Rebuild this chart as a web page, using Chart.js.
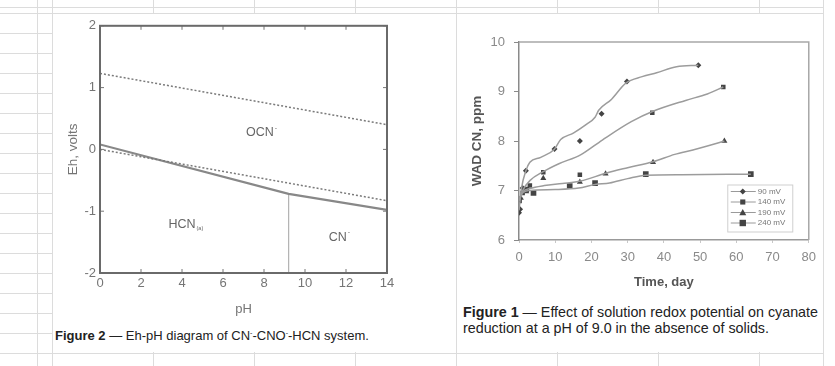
<!DOCTYPE html>
<html>
<head>
<meta charset="utf-8">
<script src="https://cdn.jsdelivr.net/npm/chart.js@4.4.0/dist/chart.umd.min.js"></script>
<style>
    html, body { margin: 0; padding: 0; background: #fff; }
    body { width: 835px; height: 366px; position: relative; overflow: hidden; font-family: "Liberation Sans", Arial, sans-serif; }
    #sheet {
        position: absolute; left: 0; top: 0; width: 823px; height: 366px;
        background-image: repeating-linear-gradient(to right, #dcdcdc 0 1px, transparent 1px 101px),
                          repeating-linear-gradient(to bottom, #dcdcdc 0 1px, transparent 1px 20px);
        background-position: 52px 0, 0 13px;
        border-right: 1px solid #dcdcdc;
    }
    .panel { position: absolute; background: #fff; top: 14px; height: 338px; }
    #leftPanel { left: 53px; width: 403px; }
    #rightPanel { left: 457px; width: 366px; }
    canvas { position: absolute; left: 0; top: 0; }
    .caption { position: absolute; color: #222; white-space: nowrap; line-height: 16px; }
    .caption sup { font-size: 7px; vertical-align: 5px; }
    #leftCaption { left: 2px; top: 311px; font-size: 13px; }
    #rightCaption { left: 6px; top: 290px; font-size: 14.3px; }
</style>
</head>
<body>
<div id="sheet"></div>
<div class="panel" id="leftPanel">
    <canvas id="ehChart" width="403" height="304"></canvas>
    <div class="caption" id="leftCaption"><b>Figure 2</b> — Eh-pH diagram of CN<sup>-</sup>-CNO<sup>-</sup>-HCN system.</div>
</div>
<div class="panel" id="rightPanel">
    <canvas id="wadChart" width="366" height="284"></canvas>
    <div class="caption" id="rightCaption"><b>Figure 1</b> — Effect of solution redox potential on cyanate<br>reduction at a pH of 9.0 in the absence of solids.</div>
</div>

<script>
// --- Figure 2 data (Eh-pH) ---
const phWater = [0, 14];
const ehOxygen = [1.23, 0.40];
const ehHydrogen = [0, -0.83];
const phBoundary = [0, 9.2, 14];
const ehBoundary = [0.08, -0.72, -0.98];
const phPka = [9.2, 9.2];
const ehPka = [-0.72, -2];
const phTicks = [0, 14, 2];
const ehTicks = [-2, 2, 1];

// --- Figure 1 data (WAD CN vs time) ---
const seriesNames = ["90 mV", "140 mV", "190 mV", "240 mV"];

const days90 = [0, 0.3, 1, 1.9, 9.8, 16.8, 22.8, 29.8, 49.5];
const wad90 = [6.55, 6.62, 7.05, 7.4, 7.84, 8.0, 8.55, 9.2, 9.53];
const days140 = [0, 1, 3, 6.7, 16.8, 36.8, 56.4];
const wad140 = [6.8, 6.95, 7.1, 7.37, 7.32, 8.57, 9.09];
const days190 = [0.5, 2, 6.7, 16.8, 23.9, 37, 56.7];
const wad190 = [6.85, 6.98, 7.25, 7.17, 7.34, 7.57, 8.0];
const days240 = [0, 2, 4, 14, 21, 35, 64];
const wad240 = [6.8, 7.02, 6.95, 7.09, 7.15, 7.33, 7.33];

// fitted curves
const fitDays90 = [0, 0.7, 1.9, 3, 6, 9.7, 11.5, 15, 18.5, 21, 22, 25.5, 29.5, 34, 38, 43.5, 49.5];
const fitWad90 = [6.6, 7.05, 7.4, 7.57, 7.67, 7.83, 8.03, 8.16, 8.33, 8.48, 8.62, 8.84, 9.17, 9.3, 9.38, 9.5, 9.53];
const fitDays140 = [0, 1, 3, 6.7, 11, 17, 23, 31, 37, 46, 52, 56.4];
const fitWad140 = [6.8, 7.0, 7.2, 7.38, 7.54, 7.72, 8.02, 8.39, 8.6, 8.82, 8.95, 9.09];
const fitDays190 = [0, 1, 3, 7, 12, 17, 24, 30, 37, 43, 48, 52, 56.7];
const fitWad190 = [6.8, 6.97, 7.04, 7.1, 7.14, 7.19, 7.35, 7.46, 7.58, 7.73, 7.82, 7.9, 8.0];
const fitDays240 = [0, 1, 3, 10, 16.5, 21, 25, 30, 35, 45, 64];
const fitWad240 = [6.8, 6.95, 7.0, 7.02, 7.05, 7.12, 7.15, 7.24, 7.31, 7.32, 7.33];

const dayTicks = [0, 80, 10];
const wadTicks = [6, 10, 1];

Chart.defaults.font.family = "'Liberation Sans', Arial, sans-serif";

function toPoints(xs, ys) {
    return xs.map((x, i) => ({ x: x, y: ys[i] }));
}

// --- Figure 2 plugins ---

const ehFramePlugin = {
    id: "ehFrame",
    afterDraw(chart) {
        const { ctx, chartArea: a, scales } = chart;
        ctx.save();
        ctx.strokeStyle = "#777";
        ctx.lineWidth = 1;
        ctx.beginPath();
        scales.x.ticks.forEach(t => {
            const px = scales.x.getPixelForValue(t.value);
            ctx.moveTo(px, a.bottom); ctx.lineTo(px, a.bottom - 4);
            ctx.moveTo(px, a.top); ctx.lineTo(px, a.top + 4);
        });
        scales.y.ticks.forEach(t => {
            const py = scales.y.getPixelForValue(t.value);
            ctx.moveTo(a.left, py); ctx.lineTo(a.left + 4, py);
            ctx.moveTo(a.right, py); ctx.lineTo(a.right - 4, py);
        });
        ctx.stroke();
        ctx.lineWidth = 2;
        ctx.strokeStyle = "#6a6a6a";
        ctx.strokeRect(a.left, a.top, a.right - a.left, a.bottom - a.top);
        ctx.restore();
    }
};

const regionLabelPlugin = {
    id: "regionLabels",
    afterDatasetsDraw(chart) {
        const { ctx, scales } = chart;
        const labels = [
            { text: "OCN", sup: "-", ph: 7.8, eh: 0.27 },
            { text: "HCN", sub: "(a)", ph: 4.0, eh: -1.21 },
            { text: "CN", sup: "-", ph: 11.6, eh: -1.42 }
        ];
        ctx.save();
        ctx.fillStyle = "#666";
        ctx.textBaseline = "middle";
        labels.forEach(l => {
            const px = scales.x.getPixelForValue(l.ph);
            const py = scales.y.getPixelForValue(l.eh);
            ctx.font = "12.5px 'Liberation Sans', Arial, sans-serif";
            const w = ctx.measureText(l.text).width;
            ctx.textAlign = "left";
            ctx.fillText(l.text, px - w / 2, py);
            if (l.sup) {
                ctx.font = "7px 'Liberation Sans', Arial, sans-serif";
                ctx.fillText(l.sup, px + w / 2 + 1, py - 5);
            }
            if (l.sub) {
                ctx.font = "5.5px 'Liberation Sans', Arial, sans-serif";
                ctx.fillText(l.sub, px + w / 2 + 1, py + 4);
            }
        });
        ctx.restore();
    }
};

new Chart(document.getElementById("ehChart"), {
    type: "scatter",
    data: {
        datasets: [
            { data: toPoints(phWater, ehOxygen), borderColor: "#7a7a7a", borderWidth: 1.5, borderDash: [2, 2] },
            { data: toPoints(phWater, ehHydrogen), borderColor: "#7a7a7a", borderWidth: 1.5, borderDash: [2, 2] },
            { data: toPoints(phBoundary, ehBoundary), borderColor: "#888", borderWidth: 2.2 },
            { data: toPoints(phPka, ehPka), borderColor: "#b4b4b4", borderWidth: 1 }
        ].map(d => Object.assign(d, { showLine: true, pointRadius: 0, fill: false }))
    },
    options: {
        responsive: false,
        animation: false,
        devicePixelRatio: 1,
        layout: { padding: { top: 10, right: 69, left: 0, bottom: 0 } },
        plugins: { legend: { display: false }, tooltip: { enabled: false } },
        scales: {
            x: {
                type: "linear",
                min: phTicks[0], max: phTicks[1],
                ticks: { stepSize: phTicks[2], color: "#757575", font: { size: 13 }, padding: 3 },
                grid: { display: false, drawTicks: false },
                border: { display: false },
                title: { display: true, text: "pH", color: "#757575", font: { size: 13 }, padding: { top: 0, bottom: 1 } },
                afterFit: s => { s.height = 45; }
            },
            y: {
                type: "linear",
                min: ehTicks[0], max: ehTicks[1],
                ticks: { stepSize: ehTicks[2], color: "#757575", font: { size: 13 }, padding: 4 },
                grid: { display: false, drawTicks: false },
                border: { display: false },
                title: { display: true, text: "Eh, volts", color: "#757575", font: { size: 13.5 }, padding: { top: 12, bottom: 0 } },
                afterFit: s => { s.width = 47; }
            }
        }
    },
    plugins: [ehFramePlugin, regionLabelPlugin]
});

// --- Figure 1 plugins ---

function drawMarker(ctx, style, r, x, y) {
    ctx.beginPath();
    if (style === "rectRot") {
        ctx.moveTo(x, y - r); ctx.lineTo(x + r, y); ctx.lineTo(x, y + r); ctx.lineTo(x - r, y);
    } else if (style === "triangle") {
        ctx.moveTo(x, y - r); ctx.lineTo(x + r, y + r * 0.8); ctx.lineTo(x - r, y + r * 0.8);
    } else {
        ctx.rect(x - r * 0.8, y - r * 0.8, r * 1.6, r * 1.6);
    }
    ctx.closePath();
    ctx.fill();
}

const wadFramePlugin = {
    id: "wadFrame",
    afterDraw(chart) {
        const { ctx, chartArea: a } = chart;
        ctx.save();
        ctx.strokeStyle = "#a8a8a8";
        ctx.lineWidth = 1.5;
        ctx.beginPath();
        ctx.moveTo(a.left, a.top); ctx.lineTo(a.right, a.top); ctx.lineTo(a.right, a.bottom);
        ctx.stroke();

        // legend box, bottom right inside the plot
        const bx = a.right - 81, by = a.bottom - 55, bw = 65, bh = 47;
        ctx.fillStyle = "#fff";
        ctx.fillRect(bx, by, bw, bh);
        ctx.lineWidth = 1;
        ctx.strokeStyle = "#cfcfcf";
        ctx.strokeRect(bx, by, bw, bh);
        const markers = chart.data.datasets.filter(d => d.label);
        markers.forEach((d, i) => {
            const y = by + 6.5 + i * 10.5;
            ctx.strokeStyle = "#9a9a9a";
            ctx.beginPath();
            ctx.moveTo(bx + 3, y); ctx.lineTo(bx + 28, y);
            ctx.stroke();
            ctx.fillStyle = "#444";
            drawMarker(ctx, d.pointStyle, d.pointRadius, bx + 15, y);
            ctx.fillStyle = "#777";
            ctx.font = "8px 'Liberation Sans', Arial, sans-serif";
            ctx.textBaseline = "middle";
            ctx.textAlign = "left";
            ctx.fillText(d.label, bx + 30, y);
        });
        ctx.restore();
    }
};

const fitLine = (xs, ys) => ({
    data: toPoints(xs, ys),
    showLine: true,
    pointRadius: 0,
    borderColor: "#9c9c9c",
    borderWidth: 1.5,
    cubicInterpolationMode: "monotone"
});

const markerSet = (name, xs, ys, style, radius) => ({
    label: name,
    data: toPoints(xs, ys),
    showLine: false,
    pointStyle: style,
    pointRadius: radius,
    backgroundColor: "#444",
    borderColor: "#444",
    borderWidth: 0
});

new Chart(document.getElementById("wadChart"), {
    type: "scatter",
    data: {
        datasets: [
            fitLine(fitDays90, fitWad90),
            fitLine(fitDays140, fitWad140),
            fitLine(fitDays190, fitWad190),
            fitLine(fitDays240, fitWad240),
            markerSet(seriesNames[0], days90, wad90, "rectRot", 3),
            markerSet(seriesNames[1], days140, wad140, "rect", 3.2),
            markerSet(seriesNames[2], days190, wad190, "triangle", 3.5),
            markerSet(seriesNames[3], days240, wad240, "rect", 4)
        ]
    },
    options: {
        responsive: false,
        animation: false,
        devicePixelRatio: 1,
        layout: { padding: { top: 28, right: 9, left: 0, bottom: 0 } },
        plugins: { legend: { display: false }, tooltip: { enabled: false } },
        scales: {
            x: {
                type: "linear",
                min: dayTicks[0], max: dayTicks[1],
                ticks: { stepSize: dayTicks[2], color: "#8a8a8a", font: { size: 13 }, padding: 7 },
                grid: { display: true, drawOnChartArea: false, drawTicks: true, tickLength: 3, color: "#c8c8c8" },
                border: { display: true, color: "#999", width: 1.5 },
                title: { display: true, text: "Time, day", color: "#555", font: { size: 13, weight: "bold" }, padding: { top: 0, bottom: 8 } },
                afterFit: s => { s.height = 58; }
            },
            y: {
                type: "linear",
                min: wadTicks[0], max: wadTicks[1],
                ticks: { stepSize: wadTicks[2], color: "#8a8a8a", font: { size: 13 }, padding: 9 },
                grid: { display: true, drawOnChartArea: false, drawTicks: true, tickLength: 5, color: "#8a8a8a" },
                border: { display: true, color: "#8a8a8a", width: 1.5 },
                title: { display: true, text: "WAD CN, ppm", color: "#555", font: { size: 13.5, weight: "bold" }, padding: { top: 12, bottom: 0 } },
                afterFit: s => { s.width = 62; }
            }
        }
    },
    plugins: [wadFramePlugin]
});
</script>
</body>
</html>
